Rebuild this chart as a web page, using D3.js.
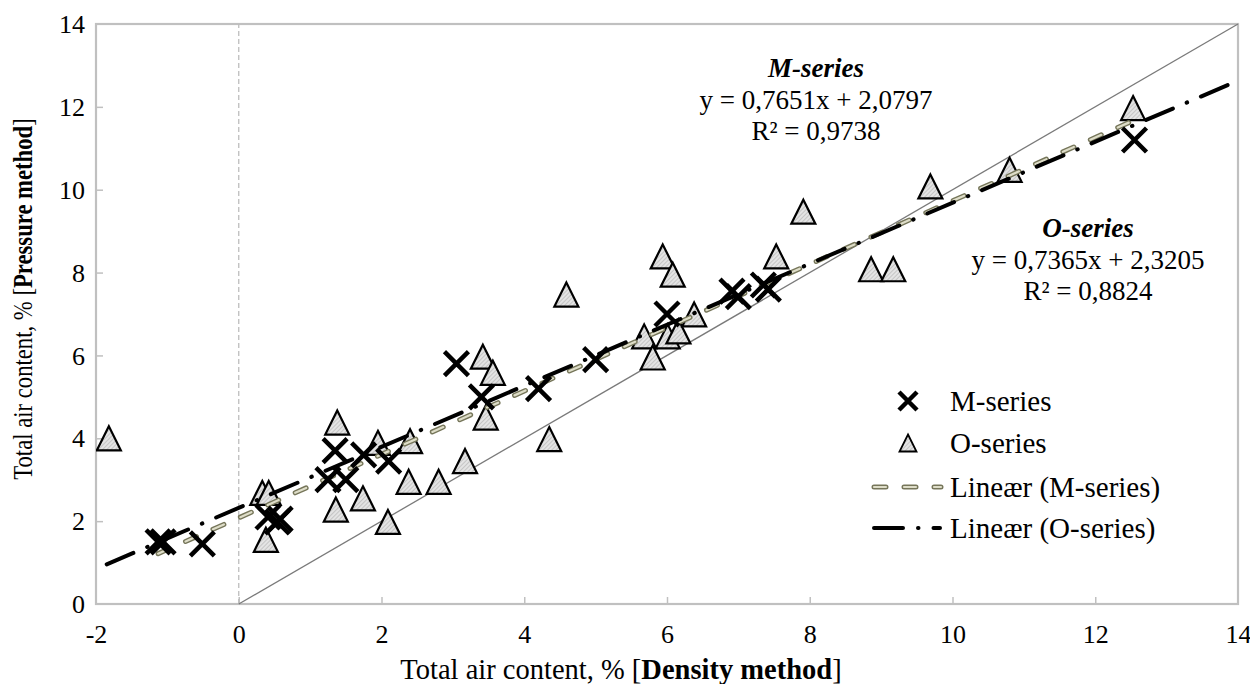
<!DOCTYPE html>
<html><head><meta charset="utf-8">
<script src="https://cdn.jsdelivr.net/npm/d3@7"></script>
<style>body{margin:0;background:#fff}svg{display:block}</style>
</head><body><svg id="c" width="1250" height="684"></svg>
<script>
const mX = [-1.13,-1.06,-0.51,0.41,0.54,0.58,1.25,1.35,1.5,1.75,2.1,3.05,3.4,4.2,5.0,6.0,6.91,7.0,7.35,7.42,12.55];
const mY = [1.5,1.5,1.45,2.1,1.98,2.05,3.0,3.7,3.0,3.6,3.45,5.8,5.0,5.2,5.9,7.0,7.55,7.42,7.7,7.6,11.2];
const oX = [-1.82,0.33,0.42,0.38,1.38,1.36,1.74,1.95,2.09,2.4,2.38,2.8,3.17,3.42,3.56,3.46,4.35,4.59,5.68,5.8,5.94,6.01,6.08,6.16,6.38,7.53,7.91,8.86,9.17,9.69,10.8,12.53];
const oY = [4.0,2.68,2.68,1.55,4.38,2.28,2.55,3.89,1.98,3.93,2.95,2.95,3.45,5.97,5.58,4.5,3.98,7.47,6.46,5.95,8.39,6.46,7.95,6.58,6.99,8.39,9.47,8.08,8.08,10.08,10.48,11.97];
const xTicks = [-2,0,2,4,6,8,10,12,14];
const yTicks = [0,2,4,6,8,10,12,14];
const fitM = {slope:0.7651, intercept:2.0797, r2:"0,9738", from:-1.13, to:12.55};
const fitO = {slope:0.7365, intercept:2.3205, r2:"0,8824", from:-1.85, to:14};
const legendLabels = ["M-series","O-series","Lineær (M-series)","Lineær (O-series)"];

const FONT = "Liberation Serif, DejaVu Serif, serif";
const svg = d3.select("#c").attr("font-family", FONT);
const x = d3.scaleLinear().domain([-2,14]).range([96,1238]);
const y = d3.scaleLinear().domain([0,14]).range([604,24]);

const defs = svg.append("defs");
const pat = defs.append("pattern").attr("id","hatch").attr("patternUnits","userSpaceOnUse").attr("width",3).attr("height",3).attr("patternTransform","rotate(45)");
pat.append("rect").attr("width",3).attr("height",3).attr("fill","#e4e4e4");
pat.append("line").attr("x1",0).attr("y1",0).attr("x2",0).attr("y2",3).attr("stroke","#a6a6a6").attr("stroke-width",1);
defs.append("clipPath").attr("id","clip").append("rect").attr("x",96).attr("y",24).attr("width",1142).attr("height",580);

const triType = {draw(ctx, size){ const w = Math.sqrt(size)/2, h = Math.sqrt(size)/2;
  ctx.moveTo(0,-h); ctx.lineTo(w,h); ctx.lineTo(-w,h); ctx.closePath(); }};

svg.append("rect").attr("x",x(-2)).attr("y",y(14)).attr("width",x(14)-x(-2)).attr("height",y(0)-y(14))
  .attr("fill","none").attr("stroke","#c0c0c0").attr("stroke-width",2.2);
const gx = svg.append("g").attr("transform",`translate(0,${y(0)})`)
  .call(d3.axisBottom(x).tickValues(xTicks).tickSize(-7).tickFormat(d=>d));
gx.attr("font-family",FONT);
gx.select(".domain").remove();
gx.selectAll(".tick line").attr("stroke","#c0c0c0").attr("stroke-width",1.5);
gx.selectAll(".tick text").attr("font-size",26).attr("dy",0).attr("y",39).attr("fill","#000");
const gy = svg.append("g").attr("transform",`translate(${x(-2)},0)`)
  .call(d3.axisLeft(y).tickValues(yTicks).tickSize(-7).tickFormat(d=>d));
gy.attr("font-family",FONT);
gy.select(".domain").remove();
gy.selectAll(".tick line").attr("stroke","#c0c0c0").attr("stroke-width",1.5);
gy.selectAll(".tick text").attr("font-size",26).attr("x",-11).attr("dy","0.33em").attr("fill","#000");
gy.selectAll(".tick").filter(d=>d===0 || d===14).select("line").remove();
gx.selectAll(".tick").filter(d=>d===-2 || d===14).select("line").remove();

svg.append("line").attr("x1",x(0)).attr("x2",x(0)).attr("y1",y(0)).attr("y2",y(14))
  .attr("stroke","#bdbdbd").attr("stroke-width",1.3).attr("stroke-dasharray","5 3");
svg.append("line").attr("x1",x(0)).attr("y1",y(0)).attr("x2",x(14)).attr("y2",y(14))
  .attr("stroke","#7a7a7a").attr("stroke-width",1.3);

const plot = svg.append("g").attr("clip-path","url(#clip)");
const tri = d3.symbol().type(triType).size(24*24);
plot.selectAll(".o").data(oX.map((v,i)=>[v,oY[i]])).join("path")
  .attr("d",tri).attr("transform",d=>`translate(${x(d[0])},${y(d[1])})`)
  .attr("fill","url(#hatch)").attr("stroke","#000").attr("stroke-width",2.2).attr("stroke-linejoin","miter");

function fitLine(f){return [[f.from,f.slope*f.from+f.intercept],[f.to,f.slope*f.to+f.intercept]];}
const ln = d3.line().x(d=>x(d[0])).y(d=>y(d[1]));
plot.append("path").attr("d",ln(fitLine(fitM))).attr("fill","none").attr("stroke","#76765a").attr("stroke-width",5)
  .attr("stroke-dasharray","12 18").attr("stroke-linecap","round");
plot.append("path").attr("d",ln(fitLine(fitM))).attr("fill","none").attr("stroke","#deddc8").attr("stroke-width",2.2)
  .attr("stroke-dasharray","12 18").attr("stroke-linecap","round");
plot.append("path").attr("d",ln(fitLine(fitO))).attr("fill","none").attr("stroke","#000").attr("stroke-width",4)
  .attr("stroke-dasharray","29 15 0.5 15").attr("stroke-linecap","round");

const xs = 12;
const mg = plot.selectAll(".m").data(mX.map((v,i)=>[v,mY[i]])).join("g")
  .attr("transform",d=>`translate(${x(d[0])},${y(d[1])})`);
mg.append("path").attr("d",`M${-xs},${-xs}L${xs},${xs}M${-xs},${xs}L${xs},${-xs}`)
  .attr("stroke","#000").attr("stroke-width",4.5).attr("fill","none");

function eqText(cx, cy, title, f){
  const g = svg.append("g").attr("font-size",27).attr("text-anchor","middle");
  g.append("text").attr("x",cx).attr("y",cy).attr("font-weight","bold").attr("font-style","italic").text(title);
  g.append("text").attr("x",cx).attr("y",cy+32)
    .text(`y = ${d3.format(".4f")(f.slope).replace(".",",")}x + ${d3.format(".4f")(f.intercept).replace(".",",")}`);
  g.append("text").attr("x",cx).attr("y",cy+63).text(`R² = ${f.r2}`);
}
eqText(816, 77, "M-series", fitM);
eqText(1088, 237, "O-series", fitO);

const lg = svg.append("g");
const ly = [401,443,487,528];
lg.append("path").attr("d",`M${908-9},${ly[0]-9}L${908+9},${ly[0]+9}M${908-9},${ly[0]+9}L${908+9},${ly[0]-9}`)
  .attr("stroke","#000").attr("stroke-width",4.5);
lg.append("path").attr("d",d3.symbol().type(triType).size(17*17)).attr("transform",`translate(908,${ly[1]})`)
  .attr("fill","url(#hatch)").attr("stroke","#000").attr("stroke-width",1.8);
lg.append("line").attr("x1",874).attr("x2",941).attr("y1",ly[2]).attr("y2",ly[2]).attr("stroke","#76765a").attr("stroke-width",5)
  .attr("stroke-dasharray","12 18").attr("stroke-linecap","round");
lg.append("line").attr("x1",874).attr("x2",941).attr("y1",ly[2]).attr("y2",ly[2]).attr("stroke","#deddc8").attr("stroke-width",2.2)
  .attr("stroke-dasharray","12 18").attr("stroke-linecap","round");
lg.append("line").attr("x1",874).attr("x2",940).attr("y1",ly[3]).attr("y2",ly[3]).attr("stroke","#000").attr("stroke-width",4)
  .attr("stroke-dasharray","29 15 0.5 15").attr("stroke-linecap","round");
lg.selectAll(".lt").data(legendLabels).join("text")
  .attr("x",950).attr("y",(d,i)=>ly[i]).attr("dy","0.33em").attr("font-size",29).text(d=>d);

const xt = svg.append("text").attr("x",621).attr("y",679).attr("text-anchor","middle").attr("font-size",28.5);
xt.append("tspan").text("Total air content, % [");
xt.append("tspan").attr("font-weight","bold").text("Density method");
xt.append("tspan").text("]");
const yt = svg.append("text").attr("transform","translate(32,299) rotate(-90) scale(0.84,1)").attr("text-anchor","middle").attr("font-size",27);
yt.append("tspan").text("Total air content, % [");
yt.append("tspan").attr("font-weight","bold").text("Pressure method");
yt.append("tspan").text("]");
</script></body></html>
